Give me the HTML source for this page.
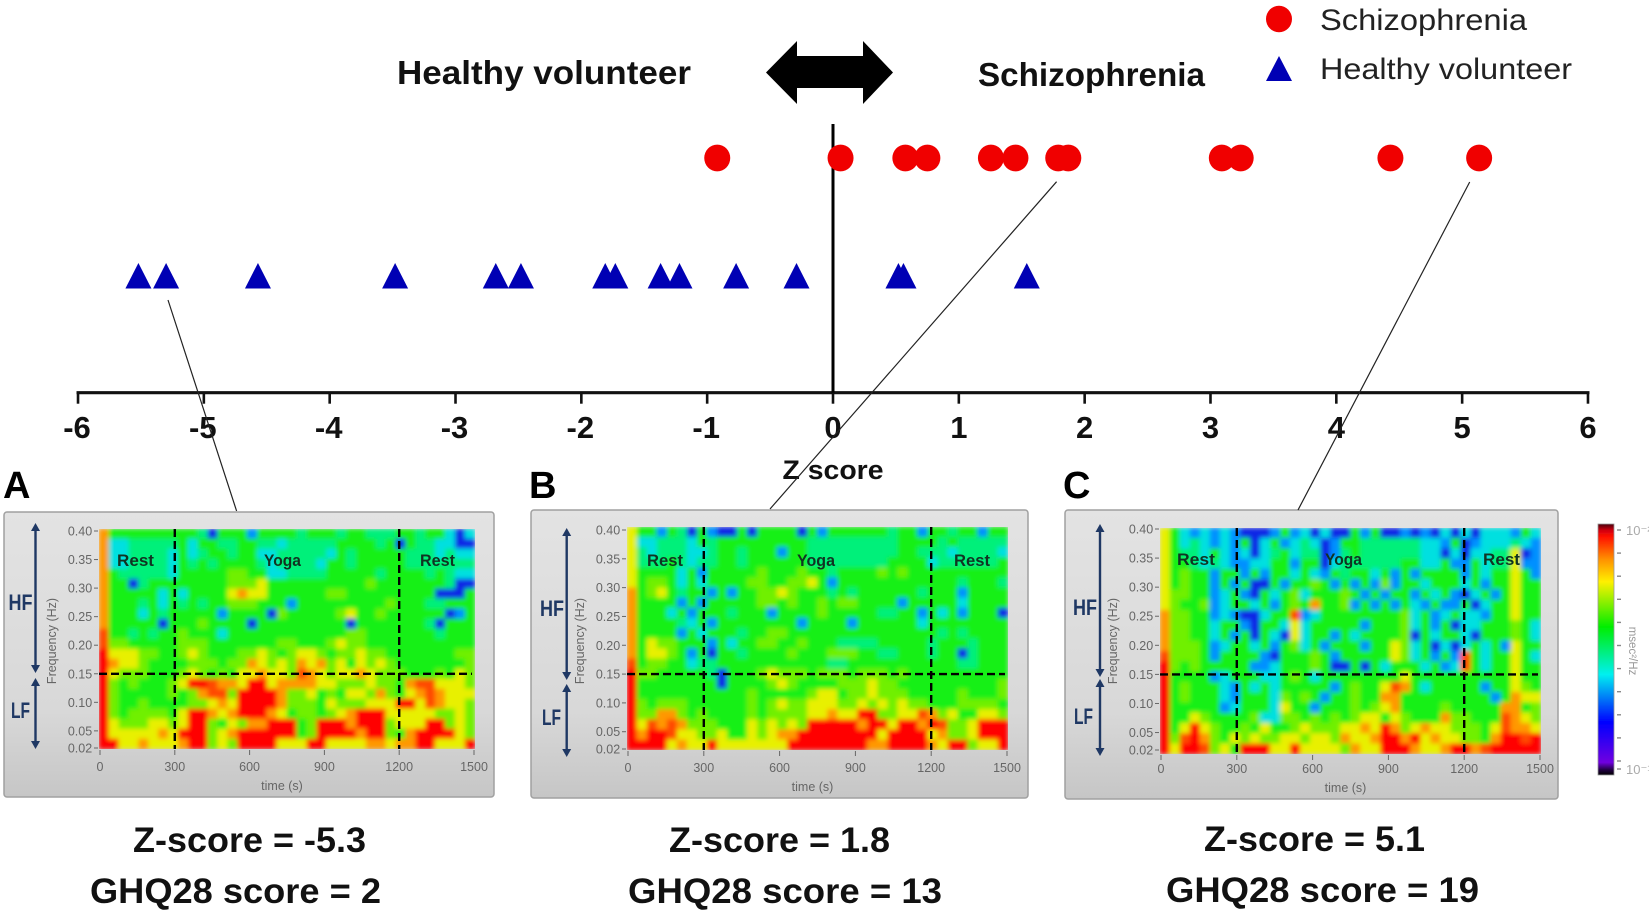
<!DOCTYPE html>
<html lang="en">
<head>
<meta charset="utf-8">
<title>Z score distribution with heart rate variability spectrograms</title>
<style>
html,body{margin:0;padding:0;background:#fff;width:1649px;height:911px;overflow:hidden}
svg{display:block}
text{font-family:"Liberation Sans",sans-serif}
.title{font-weight:bold;font-size:33px;fill:#111}
.tick{font-weight:bold;font-size:31px;fill:#111;text-anchor:middle}
.legend{font-size:30px;fill:#222}
.cap{font-weight:bold;font-size:35px;fill:#111}
.plabel{font-weight:bold;font-size:38px;fill:#000}
.band{font-weight:bold;font-size:22px;fill:#1f3864}
.small{font-size:12.5px;fill:#666;text-anchor:middle}
.phase{font-weight:bold;font-size:17px;fill:#113322}
</style>
</head>
<body>
<svg id="figure" xmlns="http://www.w3.org/2000/svg" width="1649" height="911" viewBox="0 0 1649 911">
  <defs>
    <linearGradient id="panelFill" x1="0" y1="0" x2="0" y2="1">
      <stop offset="0" stop-color="#e3e3e3"/><stop offset="0.7" stop-color="#d8d8d8"/><stop offset="1" stop-color="#c6c6c6"/>
    </linearGradient>
    <linearGradient id="barFill" x1="0" y1="0" x2="0" y2="1">
      <stop offset="0" stop-color="#4a0010"/><stop offset="0.025" stop-color="#d00010"/><stop offset="0.05" stop-color="#ff1000"/>
      <stop offset="0.14" stop-color="#ff9000"/><stop offset="0.23" stop-color="#fff000"/><stop offset="0.41" stop-color="#00ee00"/>
      <stop offset="0.6" stop-color="#00f0f0"/><stop offset="0.79" stop-color="#0000ff"/><stop offset="0.95" stop-color="#7000e0"/>
      <stop offset="0.98" stop-color="#200040"/><stop offset="1" stop-color="#000"/>
    </linearGradient>
    <filter id="soft" x="-3%" y="-3%" width="106%" height="106%"><feGaussianBlur stdDeviation="2.3"/></filter>
    <filter id="softText" x="-5%" y="-5%" width="110%" height="110%"><feGaussianBlur stdDeviation="0.35"/></filter>
  </defs>

  <g id="top-chart"></g>

  <text class="title" x="397" y="84" textLength="294" lengthAdjust="spacingAndGlyphs">Healthy volunteer</text>
  <text class="title" x="978" y="86" textLength="227" lengthAdjust="spacingAndGlyphs">Schizophrenia</text>
  <polygon points="766,72.5 797,41 797,56 863,56 863,41 893,72.5 863,104 863,88 797,88 797,104" fill="#000"/>

  <g>
    <ellipse cx="1279" cy="19" rx="13" ry="13.3" fill="#f00000"/>
    <text class="legend" x="1320" y="30" textLength="207" lengthAdjust="spacingAndGlyphs">Schizophrenia</text>
    <polygon points="1279,56 1292,81 1266,81" fill="#0000b4"/>
    <text class="legend" x="1320" y="79" textLength="252" lengthAdjust="spacingAndGlyphs">Healthy volunteer</text>
  </g>

  <text x="833" y="479" text-anchor="middle" font-weight="bold" font-size="27" fill="#111" textLength="101" lengthAdjust="spacingAndGlyphs">Z score</text>

  <g id="panels"></g>

  <g stroke="#222" stroke-width="1.2">
    <line x1="168" y1="300" x2="236.6" y2="511"/>
    <line x1="1056.6" y1="181.7" x2="770" y2="509"/>
    <line x1="1469.7" y1="182" x2="1298" y2="510"/>
  </g>

  <text class="plabel" x="3" y="498">A</text>
  <text class="plabel" x="529" y="498">B</text>
  <text class="plabel" x="1063" y="498">C</text>

  <text class="cap" x="133" y="852" textLength="233" lengthAdjust="spacingAndGlyphs">Z-score = -5.3</text>
  <text class="cap" x="90" y="903" textLength="291" lengthAdjust="spacingAndGlyphs">GHQ28 score = 2</text>
  <text class="cap" x="669" y="852" textLength="221" lengthAdjust="spacingAndGlyphs">Z-score = 1.8</text>
  <text class="cap" x="628" y="903" textLength="314" lengthAdjust="spacingAndGlyphs">GHQ28 score = 13</text>
  <text class="cap" x="1204" y="851" textLength="221" lengthAdjust="spacingAndGlyphs">Z-score = 5.1</text>
  <text class="cap" x="1166" y="902" textLength="313" lengthAdjust="spacingAndGlyphs">GHQ28 score = 19</text>

  <g filter="url(#softText)">
    <rect x="1598" y="524" width="16" height="251" fill="url(#barFill)" stroke="#999" stroke-width="0.8"/>
    <g id="barTicks" stroke="#888" stroke-width="1.4"></g>
    <text x="1626" y="535" font-size="13" fill="#aaa">10&#8315;&#178;</text>
    <text x="1626" y="774" font-size="13" fill="#aaa">10&#8315;&#185;</text>
    <text transform="translate(1629,651) rotate(90)" text-anchor="middle" font-size="11.5" fill="#999">msec&#178;/Hz</text>
  </g>
</svg>

<script>
const zTicks = [-6,-5,-4,-3,-2,-1,0,1,2,3,4,5,6];
const schizophreniaZ = [-0.92,0.06,0.575,0.75,1.255,1.45,1.79,1.87,3.09,3.24,4.43,5.135];
const healthyZ = [-5.52,-5.30,-4.57,-3.48,-2.68,-2.48,-1.81,-1.73,-1.37,-1.22,-0.77,-0.29,0.52,0.56,1.54];
const timeTicks = [0,300,600,900,1200,1500];
const freqTicks = [0.40,0.35,0.30,0.25,0.20,0.15,0.10,0.05,0.02];
const colorbarTicks = [0,1,2,3,4,5,6,7,8,9,10,11];
const heatColors = ['#0a28e6','#0090ff','#00e0e0','#00f07a','#14f014','#70f000','#e8f000','#ff9800','#ff4a00','#ff0000'];

const heatmapA = [
"74444444443044414444344434433344344202",
"72233333424433443323333344443404332200",
"72233332423443442233333243444443332322",
"72233332434344443233332443444443333333",
"74333332444445544223333444443444434322",
"74403444444445556444444444454444444300",
"74444424244446766444444554444444440004",
"74443424343445554441444444444544433444",
"74442434444414444054444456445444444014",
"74444404445444404444444440444444430444",
"84434344544424444444444445544444443444",
"85544444555444444455444565544444444444",
"96665544565444556545665455655444444455",
"97665444455545576565767564656544444445",
"96555444565454667665876566765554445465",
"95454445699877699677776655565547886665",
"95444445457885999975564546657546787666",
"95445444455676999975554655566699687665",
"95455554699767999764554567999666665565",
"96555665699546577999459997999566699565",
"96666676999567999999459999799547999965",
"99667666799565999966699666677677996669"
];
const heatmapB = [
"64414304100404444041444444344144344144",
"62233324344444444433333333344443433333",
"63233322344344414433333333344333233332",
"63334323344344444433333333444423333334",
"64444241444445444544344445454444444444",
"64554242444455445564144444444444434443",
"74564344141445565444343444444344414444",
"74444141444445545445455444414444424444",
"74442414443444144445444443344142414440",
"74444324144444444144441444444244444444",
"74444142444344554444444444444443434444",
"74655444142445544544433334444434443444",
"74665414044344445444555443344434403444",
"84554423344444444444334444444444433444",
"95544444304445655545554555454444444444",
"94444444404444565444455565544444444445",
"94444444444454444456645565554444454445",
"95455544444454565566655656565544455554",
"95577545444454555566766995566875644665",
"96878755544465656599999799699798556999",
"97998665564465677999999996999967556999",
"99996766966666669999999977999976995669"
];
const heatmapC = [
"64212121000141202004140010102020222142",
"64232121402412320144333333221401222321",
"64332421202342330134333333220202233601",
"64432321122441440233333344224114233611",
"64544144141442421434424141444414244641",
"64544141400414454141415144244424144644",
"65544124104245244454141441424102414644",
"65445124424145474451414142141140244644",
"75544121002448124444444452412422144644",
"75544244104426244444144452414022444542",
"75544241404206244142444450424420444542",
"75554124424145241444144652402024241644",
"85554144441044454144444652414184244642",
"95454444411244454004042444241284244644",
"94444124442245424444444464444444444644",
"94544421424244444145446874244444144654",
"94544421444254541445447744444444414766",
"94444412444264414445456744445444447745",
"94465444452255454545664654447554448765",
"94696544546445655566769756766555468776",
"95897546565566566576679979676655479989",
"96998564999669666657669997667997899999"
];

const NS = 'http://www.w3.org/2000/svg';
function make(tag, attrs, parent, txt) {
  const el = document.createElementNS(NS, tag);
  for (const k in attrs) el.setAttribute(k, attrs[k]);
  if (txt !== undefined) el.textContent = txt;
  parent.appendChild(el);
  return el;
}
const xZ = z => 833 + z * 125.83;

function drawTopChart() {
  const g = document.getElementById('top-chart');
  const axisY = 392.7;
  const axisLine = make('line', {x1: xZ(-6) - 1.5, x2: xZ(6) + 1.5, y1: axisY, y2: axisY, stroke: '#111', 'stroke-width': 3.2}, g);
  
  
  const zero = make('line', {x1: xZ(0), x2: xZ(0), y1: 124, y2: axisY, stroke: '#000', 'stroke-width': 3}, g);
  
  
  zTicks.forEach(v => {
    const t = make('line', {x1: xZ(v), x2: xZ(v), y1: axisY, y2: axisY + 11, stroke: '#111', 'stroke-width': 2.6}, g);
    
    
    const l = make('text', {class: 'tick', x: xZ(v) + (v < 0 ? -1 : 0), y: 438}, g, String(v));
    
    
  });
  healthyZ.forEach(v => {
    const cx = xZ(v);
    const p = make('polygon', {points: cx + ',263 ' + (cx + 13) + ',288.5 ' + (cx - 13) + ',288.5', fill: '#0000b4'}, g);
    
    
  });
  schizophreniaZ.forEach(v => {
    const c = make('ellipse', {cx: xZ(v), cy: 158, rx: 13, ry: 13.4, fill: '#f00000'}, g);
    
    
  });
}

function drawPanel(id, grid, box, plot, labels) {
  const root = make('g', {}, document.getElementById('panels'));
  
  
  const bg = make('rect', {x: box[0], y: box[1], width: box[2] - box[0], height: box[3] - box[1], rx: 3, fill: 'url(#panelFill)', stroke: '#a0a0a0', 'stroke-width': 1.5}, root);
  
  

  const [x0, y0, x1, y1] = plot;
  const xT = t => x0 + 1 + t / 1500 * (x1 - x0 - 2);
  const yF = f => labels.fTop + (0.40 - f) / 0.38 * (labels.fBottom - labels.fTop);

  const clip = make('clipPath', {id: 'clip' + id}, root);
  make('rect', {x: x0, y: y0, width: x1 - x0, height: y1 - y0}, clip);
  const wrap = make('g', {'clip-path': 'url(#clip' + id + ')'}, root);
  const heat = make('g', {filter: 'url(#soft)'}, wrap);
  
  
  const ch = (y1 - y0) / grid.length;
  grid.forEach((row, r) => {
    const cw = (x1 - x0) / row.length;
    for (let c = 0; c < row.length; c++) {
      const cell = make('rect', {x: x0 + c * cw - 0.3, y: y0 + r * ch - 0.3, width: cw + 0.6, height: ch + 0.6, fill: heatColors[+row[c]]}, heat);
      
      
    }
  });

  const axes = make('g', {filter: 'url(#softText)'}, root);
  freqTicks.forEach(f => {
    make('line', {x1: x0 - 5, x2: x0 - 1, y1: yF(f), y2: yF(f), stroke: '#666', 'stroke-width': 1}, axes);
    const l = make('text', {class: 'small', x: x0 - 19, y: yF(f) + 4.5}, axes, f.toFixed(2));
    
    
  });
  timeTicks.forEach(t => {
    make('line', {x1: xT(t), x2: xT(t), y1: y1 + 1, y2: y1 + 6, stroke: '#666', 'stroke-width': 1}, axes);
    const l = make('text', {class: 'small', x: xT(t), y: labels.timeY}, axes, String(t));
    
    
  });
  const xt = make('text', {class: 'small', x: (x0 + x1) / 2 - 5, y: labels.timeY + 19}, axes, 'time (s)');
  
  
  const yt = make('text', {class: 'small', transform: 'translate(' + (x0 - 43) + ',641) rotate(-90)'}, axes, 'Frequency (Hz)');
  
  

  const dash = {stroke: '#000', 'stroke-width': 2.4, 'stroke-dasharray': '8 4'};
  [300, 1200].forEach(t => {
    const v = make('line', Object.assign({x1: xT(t), x2: xT(t), y1: y0, y2: y1}, dash), root);
    
    
  });
  const h = make('line', Object.assign({x1: x0, x2: x1 - 3, y1: yF(0.15), y2: yF(0.15)}, dash), root);
  
  

  labels.phases.forEach((p, i) => {
    const t = make('text', {class: 'phase', x: p[0], y: labels.phaseY, textLength: p[1], lengthAdjust: 'spacingAndGlyphs'}, root, i === 1 ? 'Yoga' : 'Rest');
    
    
  });

  const ax = labels.arrowX, a = labels.arrow;
  const navy = {stroke: '#1f3864', 'stroke-width': 2.4};
  [[a[0], a[1]], [a[2], a[3]]].forEach(seg => {
    const ln = make('line', Object.assign({x1: ax, x2: ax, y1: seg[0] + 4, y2: seg[1] - 4}, navy), root);
    
    
    make('polygon', {points: ax + ',' + seg[0] + ' ' + (ax + 4.5) + ',' + (seg[0] + 8) + ' ' + (ax - 4.5) + ',' + (seg[0] + 8), fill: '#1f3864'}, root);
    make('polygon', {points: ax + ',' + seg[1] + ' ' + (ax + 4.5) + ',' + (seg[1] - 8) + ' ' + (ax - 4.5) + ',' + (seg[1] - 8), fill: '#1f3864'}, root);
  });
  const hf = make('text', {class: 'band', x: labels.hf[0], y: labels.hf[1], textLength: 24, lengthAdjust: 'spacingAndGlyphs'}, root, 'HF');
  
  
  const lf = make('text', {class: 'band', x: labels.lf[0], y: labels.lf[1], textLength: 19, lengthAdjust: 'spacingAndGlyphs'}, root, 'LF');
  
  
}

function drawColorbarTicks() {
  const g = document.getElementById('barTicks');
  colorbarTicks.forEach(i => {
    const y = i === 11 ? 769 : 530 + i * 23.1;
    const t = make('line', {x1: 1617, x2: 1621, y1: y, y2: y}, g);
    
    
  });
}

drawTopChart();
drawPanel('a', heatmapA, [4, 512, 494, 797], [99, 529, 475, 749], {
  fTop: 531, fBottom: 748, timeY: 771,
  phases: [[117, 37], [264, 37], [420, 35]], phaseY: 566, arrowX: 35.5, arrow: [523, 673, 678, 749], hf: [8.5, 610], lf: [11, 718]
});
drawPanel('b', heatmapB, [531, 510, 1028, 798], [627, 527, 1008, 750], {
  fTop: 530, fBottom: 749, timeY: 772,
  phases: [[647, 36], [797, 38], [954, 36]], phaseY: 566, arrowX: 566.7, arrow: [528, 680, 684, 757], hf: [540, 616], lf: [542, 725]
});
drawPanel('c', heatmapC, [1065, 510, 1558, 799], [1160, 528, 1541, 754], {
  fTop: 529, fBottom: 750, timeY: 773,
  phases: [[1177, 38], [1325, 37], [1483, 37]], phaseY: 565, arrowX: 1100, arrow: [524, 677, 679, 756], hf: [1073, 615], lf: [1074, 724]
});
drawColorbarTicks();
</script>
</body>
</html>
